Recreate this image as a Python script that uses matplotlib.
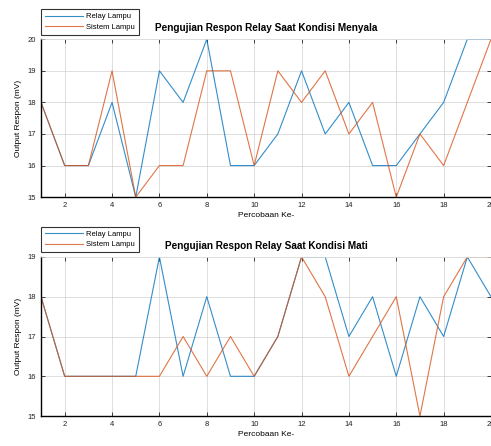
import numpy as np
import matplotlib
matplotlib.use("Agg")
import matplotlib.pyplot as plt

plt.rcParams['font.family'] = ['Liberation Sans', 'DejaVu Sans']

percobaan = list(range(1, 21))#trial number
xticks = [2, 4, 6, 8, 10, 12, 14, 16, 18, 20]

#---- kondisi menyala ----
relay_on = [18, 16, 16, 18, 15, 19, 18, 20, 16, 16, 17, 19, 17, 18, 16, 16, 17, 18, 20, 20]
sistem_on = [18, 16, 16, 19, 15, 16, 16, 19, 19, 16, 19, 18, 19, 17, 18, 15, 17, 16, 18, 20]
yticks_on = [15, 16, 17, 18, 19, 20]

#---- kondisi mati ----
relay_off = [18, 16, 16, 16, 16, 19, 16, 18, 16, 16, 17, 19, 19, 17, 18, 16, 18, 17, 19, 18]
sistem_off = [18, 16, 16, 16, 16, 16, 17, 16, 17, 16, 17, 19, 18, 16, 17, 18, 15, 18, 19, 19]
yticks_off = [15, 16, 17, 18, 19]

labels = ["Relay Lampu", "Sistem Lampu"]
titles = ["Pengujian Respon Relay Saat Kondisi Menyala",
          "Pengujian Respon Relay Saat Kondisi Mati"]

blue = (0.0, 0.447, 0.741)
orange = (0.85, 0.325, 0.098)

fig = plt.figure(figsize=(4.91, 4.46), dpi=100)
ax1 = fig.add_axes([0.0835, 0.558, 0.9165, 0.354])
ax2 = fig.add_axes([0.0835, 0.067, 0.9165, 0.357])

panels = [(ax1, relay_on, sistem_on, yticks_on, titles[0]),
          (ax2, relay_off, sistem_off, yticks_off, titles[1])]

for ax, r, s, yt, title in panels:
    ax.plot(percobaan, r, color=blue, lw=0.8, label=labels[0], alpha=0.8)
    ax.plot(percobaan, s, color=orange, lw=0.8, label=labels[1], alpha=0.8)
    ax.set_xlim(1, 20)
    ax.set_ylim(yt[0], yt[-1])
    ax.set_xticks(xticks)
    ax.set_yticks(yt)
    ax.grid(True, color='#d2d2d2', lw=0.5)
    ax.tick_params(direction='in', length=3, width=0.6, labelsize=5.5,
                   top=True, right=True, colors='#222222')
    for side in ['top', 'right']:
        ax.spines[side].set_color('#dddddd')
        ax.spines[side].set_linewidth(0.5)
    for side in ['left', 'bottom']:
        ax.spines[side].set_color('black')
        ax.spines[side].set_linewidth(1.0)
    ax.set_xlabel('Percobaan Ke-', fontsize=6, labelpad=2)
    ax.set_ylabel('Output Respon (mV)', fontsize=6, labelpad=4)
    ax.set_title(title, fontsize=7.2, fontweight='bold', pad=6)
    leg = ax.legend(loc='lower left', bbox_to_anchor=(0.0, 1.03), fontsize=5.5,
                    frameon=True, fancybox=False, handlelength=5, borderpad=0.5,
                    labelspacing=0.4, handletextpad=0.4, borderaxespad=0)
    leg.get_frame().set_edgecolor('black')
    leg.get_frame().set_linewidth(0.8)

fig.savefig("out.png", dpi=100)
